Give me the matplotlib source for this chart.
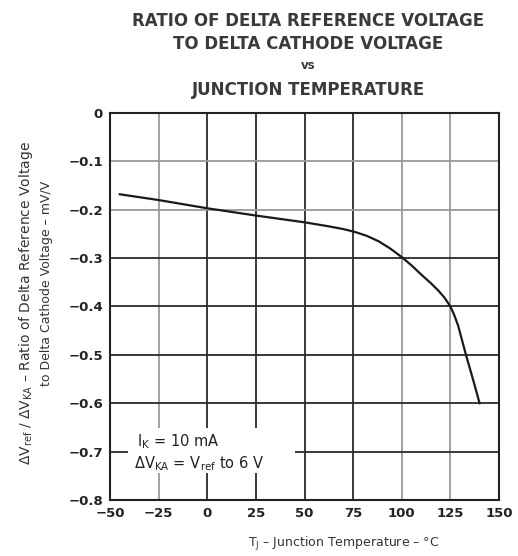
import matplotlib
matplotlib.use("Agg")
import matplotlib.pyplot as plt
from matplotlib.patches import Rectangle

plt.rcParams['font.family'] = ['DejaVu Sans']

# junction temperature (C) and ratio (mV/V)
temp = [-45, -25, 0, 25, 50, 62, 70, 76, 82, 88, 94, 100, 105, 110, 115, 119, 122,
        125, 127, 129, 131, 133, 135, 136.7, 138.5, 140]
ratio = [-0.168, -0.18, -0.197, -0.212, -0.226, -0.234, -0.24, -0.246, -0.254, -0.265,
         -0.28, -0.298, -0.315, -0.334, -0.352, -0.368, -0.382, -0.4, -0.418,
         -0.44, -0.47, -0.5, -0.528, -0.552, -0.578, -0.6]

xticks = [-50, -25, 0, 25, 50, 75, 100, 125, 150]
xticklabels = ['\u221250', '\u221225', '0', '25', '50', '75', '100', '125', '150']
yticks = [0, -0.1, -0.2, -0.3, -0.4, -0.5, -0.6, -0.7, -0.8]
yticklabels = ['0', '\u22120.1', '\u22120.2', '\u22120.3', '\u22120.4', '\u22120.5',
               '\u22120.6', '\u22120.7', '\u22120.8']

# lighter grid lines in the scan
light_x = [-25, 100, 125]
light_y = [-0.1, -0.2]

fig = plt.figure(figsize=(5.18, 5.56), dpi=100)
ax = fig.add_axes([0.2124, 0.1007, 0.751, 0.6961])

ax.set_xlim(-50, 150)
ax.set_ylim(-0.8, 0)

for x in xticks[1:-1]:
    c = '#9a9a9a' if x in light_x else '#2a2a2a'
    ax.axvline(x, color=c, lw=1.3, zorder=1)
for y in yticks[1:-1]:
    c = '#9a9a9a' if y in light_y else '#2a2a2a'
    ax.axhline(y, color=c, lw=1.3, zorder=1)

# white box behind the conditions text
ax.add_patch(Rectangle((-41, -0.744), 86, 0.093, facecolor='white', edgecolor='none', zorder=2))

ax.plot(temp, ratio, color='#1a1a1a', lw=1.6, zorder=3)

ax.text(-36, -0.68, r'I$_\mathregular{K}$ = 10 mA', fontsize=10.5, color='#222222',
        va='center', ha='left', zorder=4)
ax.text(-37.5, -0.725, '\u0394V$_\\mathregular{KA}$ = V$_\\mathregular{ref}$ to 6 V', fontsize=10.5,
        color='#222222', va='center', ha='left', zorder=4)

ax.set_xticks(xticks)
ax.set_xticklabels(xticklabels)
ax.set_yticks(yticks)
ax.set_yticklabels(yticklabels)
ax.tick_params(length=0, labelsize=9.5, labelcolor='#222222', pad=5)
for lab in ax.get_xticklabels() + ax.get_yticklabels():
    lab.set_fontweight('bold')

for s in ax.spines.values():
    s.set_linewidth(1.5)
    s.set_color('#222222')

ax.set_xlabel('T$_\\mathregular{J}$ \u2013 Junction Temperature \u2013 \u00b0C',
              fontsize=9, color='#333333', labelpad=12)
ax.xaxis.set_label_coords(0.6, -0.09)

fig.text(0.05, 0.455, '\u0394V$_\\mathregular{ref}$ / \u0394V$_\\mathregular{KA}$ \u2013 Ratio of Delta Reference Voltage',
         rotation=90, ha='center', va='center', fontsize=10, color='#333333')
fig.text(0.089, 0.49, 'to Delta Cathode Voltage \u2013 mV/V',
         rotation=90, ha='center', va='center', fontsize=9, color='#333333')

fig.text(0.595, 0.963, 'RATIO OF DELTA REFERENCE VOLTAGE', ha='center', va='center',
         fontsize=12, fontweight='bold', color='#3a3a3a')
fig.text(0.595, 0.921, 'TO DELTA CATHODE VOLTAGE', ha='center', va='center',
         fontsize=12, fontweight='bold', color='#3a3a3a')
fig.text(0.595, 0.882, 'vs', ha='center', va='center',
         fontsize=8.5, fontweight='bold', color='#3a3a3a')
fig.text(0.595, 0.838, 'JUNCTION TEMPERATURE', ha='center', va='center',
         fontsize=12, fontweight='bold', color='#3a3a3a')

fig.savefig('out.png', dpi=100)
